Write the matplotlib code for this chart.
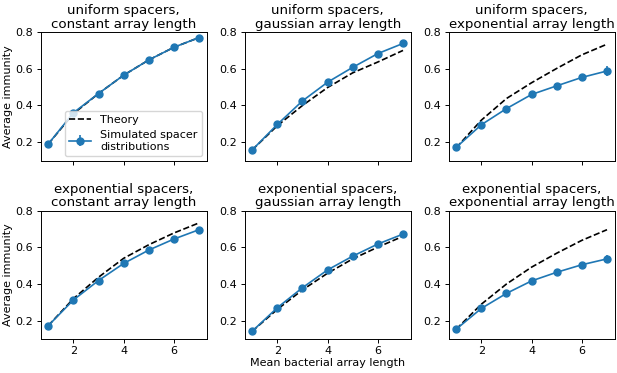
import numpy as np
import matplotlib
matplotlib.use('Agg')
import matplotlib.pyplot as plt

# mean bacterial array length
x = [1, 2, 3, 4, 5, 6, 7]

titles = ['uniform spacers,\nconstant array length',
          'uniform spacers,\ngaussian array length',
          'uniform spacers,\nexponential array length',
          'exponential spacers,\nconstant array length',
          'exponential spacers,\ngaussian array length',
          'exponential spacers,\nexponential array length']

theory = [
    [0.19, 0.355, 0.465, 0.565, 0.648, 0.717, 0.770],
    [0.158, 0.290, 0.400, 0.498, 0.578, 0.637, 0.700],
    [0.170, 0.320, 0.438, 0.524, 0.602, 0.676, 0.734],
    [0.173, 0.320, 0.437, 0.540, 0.614, 0.678, 0.733],
    [0.143, 0.262, 0.368, 0.459, 0.537, 0.601, 0.660],
    [0.154, 0.290, 0.400, 0.492, 0.568, 0.638, 0.696],
]

sim = [
    [0.190, 0.360, 0.465, 0.565, 0.648, 0.717, 0.770],
    [0.158, 0.297, 0.425, 0.527, 0.608, 0.683, 0.738],
    [0.172, 0.295, 0.383, 0.460, 0.507, 0.553, 0.588],
    [0.173, 0.313, 0.419, 0.512, 0.585, 0.645, 0.696],
    [0.143, 0.271, 0.380, 0.477, 0.552, 0.618, 0.672],
    [0.154, 0.267, 0.349, 0.417, 0.464, 0.505, 0.537],
]

sim_err = [
    [0.002, 0.002, 0.003, 0.003, 0.003, 0.004, 0.004],
    [0.002, 0.003, 0.003, 0.004, 0.004, 0.005, 0.005],
    [0.005, 0.006, 0.008, 0.010, 0.012, 0.014, 0.025],
    [0.002, 0.003, 0.003, 0.004, 0.004, 0.005, 0.005],
    [0.002, 0.003, 0.003, 0.004, 0.004, 0.005, 0.005],
    [0.004, 0.005, 0.007, 0.009, 0.012, 0.016, 0.022],
]

fig, axs = plt.subplots(2, 3, figsize=(6.17, 3.73), dpi=100, sharex=True)
plt.subplots_adjust(left=0.066, right=0.996, top=0.914, bottom=0.091,
                    wspace=0.23, hspace=0.39)

for i, ax in enumerate(axs.flat):
    ax.plot(x, theory[i], 'k--', lw=1.2, label='Theory')
    ax.errorbar(x, sim[i], yerr=sim_err[i], color='#1f77b4', marker='o',
                ms=5, lw=1.2, label='Simulated spacer\ndistributions')
    ax.set_title(titles[i], fontsize=9.6, linespacing=1.05, pad=3)
    ax.set_ylim(0.1, 0.8)
    ax.set_yticks([0.2, 0.4, 0.6, 0.8])
    ax.set_xticks([2, 4, 6])
    ax.tick_params(labelsize=8, length=2.8, width=0.7, pad=2.5)
    for s in ax.spines.values():
        s.set_linewidth(0.7)

axs[0, 0].set_ylabel('Average immunity', fontsize=8, labelpad=2)
axs[1, 0].set_ylabel('Average immunity', fontsize=8, labelpad=2)
axs[1, 1].set_xlabel('Mean bacterial array length', fontsize=8, labelpad=1)
axs[0, 0].legend(loc='lower right', fontsize=8, handlelength=2,
                 borderaxespad=0.4, labelspacing=0.45)

plt.savefig('out.png', dpi=100)
